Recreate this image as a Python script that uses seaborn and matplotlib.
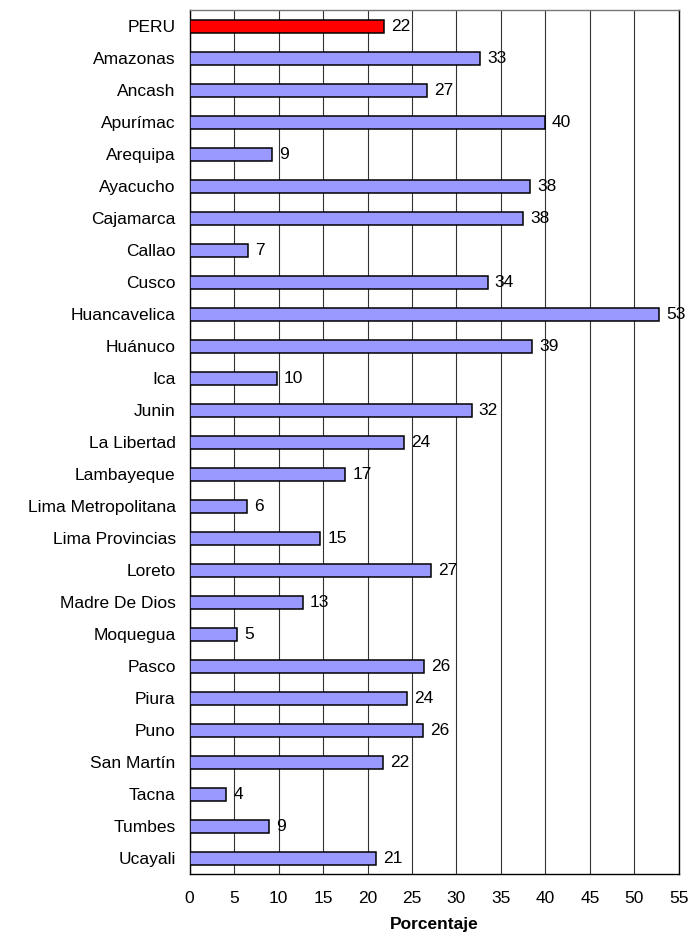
import matplotlib
matplotlib.use("Agg")
import matplotlib.pyplot as plt
import numpy as np
import pandas as pd
import seaborn as sns

regions = [
    "PERU", "Amazonas", "Ancash", "Apurímac", "Arequipa", "Ayacucho",
    "Cajamarca", "Callao", "Cusco", "Huancavelica", "Huánuco", "Ica",
    "Junin", "La Libertad", "Lambayeque", "Lima Metropolitana",
    "Lima Provincias", "Loreto", "Madre De Dios", "Moquegua", "Pasco",
    "Piura", "Puno", "San Martín", "Tacna", "Tumbes", "Ucayali",
]
values = [
    21.8, 32.7, 26.7, 39.9, 9.3, 38.3,
    37.5, 6.6, 33.5, 52.8, 38.5, 9.8,
    31.7, 24.1, 17.5, 6.4,
    14.7, 27.1, 12.7, 5.3, 26.4,
    24.4, 26.2, 21.7, 4.1, 8.9, 21.0,
]
labels = [22, 33, 27, 40, 9, 38, 38, 7, 34, 53, 39, 10, 32, 24, 17, 6,
          15, 27, 13, 5, 26, 24, 26, 22, 4, 9, 21]
groups = ["total"] + ["region"] * (len(regions) - 1)

df = pd.DataFrame({"Region": regions, "Valor": values, "Grupo": groups})

sns.set_theme(style="white")
plt.rcParams["font.family"] = ["Liberation Sans", "DejaVu Sans"]
plt.rcParams["text.color"] = "black"
plt.rcParams["xtick.color"] = "black"
plt.rcParams["ytick.color"] = "black"
plt.rcParams["axes.labelcolor"] = "black"

fig = plt.figure(figsize=(6.92, 9.36), dpi=100)
ax = fig.add_axes([0.274, 0.066, 0.707, 0.923])

sns.barplot(
    data=df, y="Region", x="Valor", hue="Grupo", orient="h",
    palette={"total": "#FF0000", "region": "#9999FF"},
    width=0.42, dodge=False, legend=False,
    edgecolor="black", linewidth=1.1, saturation=1, ax=ax, zorder=3,
)

# etiquetas de valor redondeadas al final de cada barra
for i, (v, lab) in enumerate(zip(values, labels)):
    ax.text(v + 0.8, i, str(lab), va="center", ha="left", fontsize=12.5,
            color="black", zorder=4)

ax.set_xlim(0, 55)
ax.set_ylim(len(regions) - 0.5, -0.5)
ax.set_xticks(np.arange(0, 56, 5))
ax.set_xticklabels([str(t) for t in range(0, 56, 5)], fontsize=12.5)
ax.tick_params(axis="y", labelsize=12.5, length=0, pad=10)
ax.set_yticks(np.arange(-0.5, len(regions) + 0.5, 1), minor=True)
ax.tick_params(axis="y", which="minor", direction="out", length=5,
               color="#444444", width=1)
ax.tick_params(axis="x", direction="out", length=5, color="black",
               width=1, pad=7)
ax.xaxis.grid(True, color="#333333", linewidth=0.8, zorder=0)
ax.yaxis.grid(False)
ax.set_axisbelow(True)

for side in ["left", "bottom", "right"]:
    ax.spines[side].set_color("black")
    ax.spines[side].set_linewidth(1.0)
ax.spines["top"].set_color("#777777")
ax.spines["top"].set_linewidth(1.0)

ax.set_ylabel("")
ax.set_xlabel("Porcentaje", fontsize=12.5, fontweight="bold", labelpad=8)

fig.savefig("out.png", dpi=100)
